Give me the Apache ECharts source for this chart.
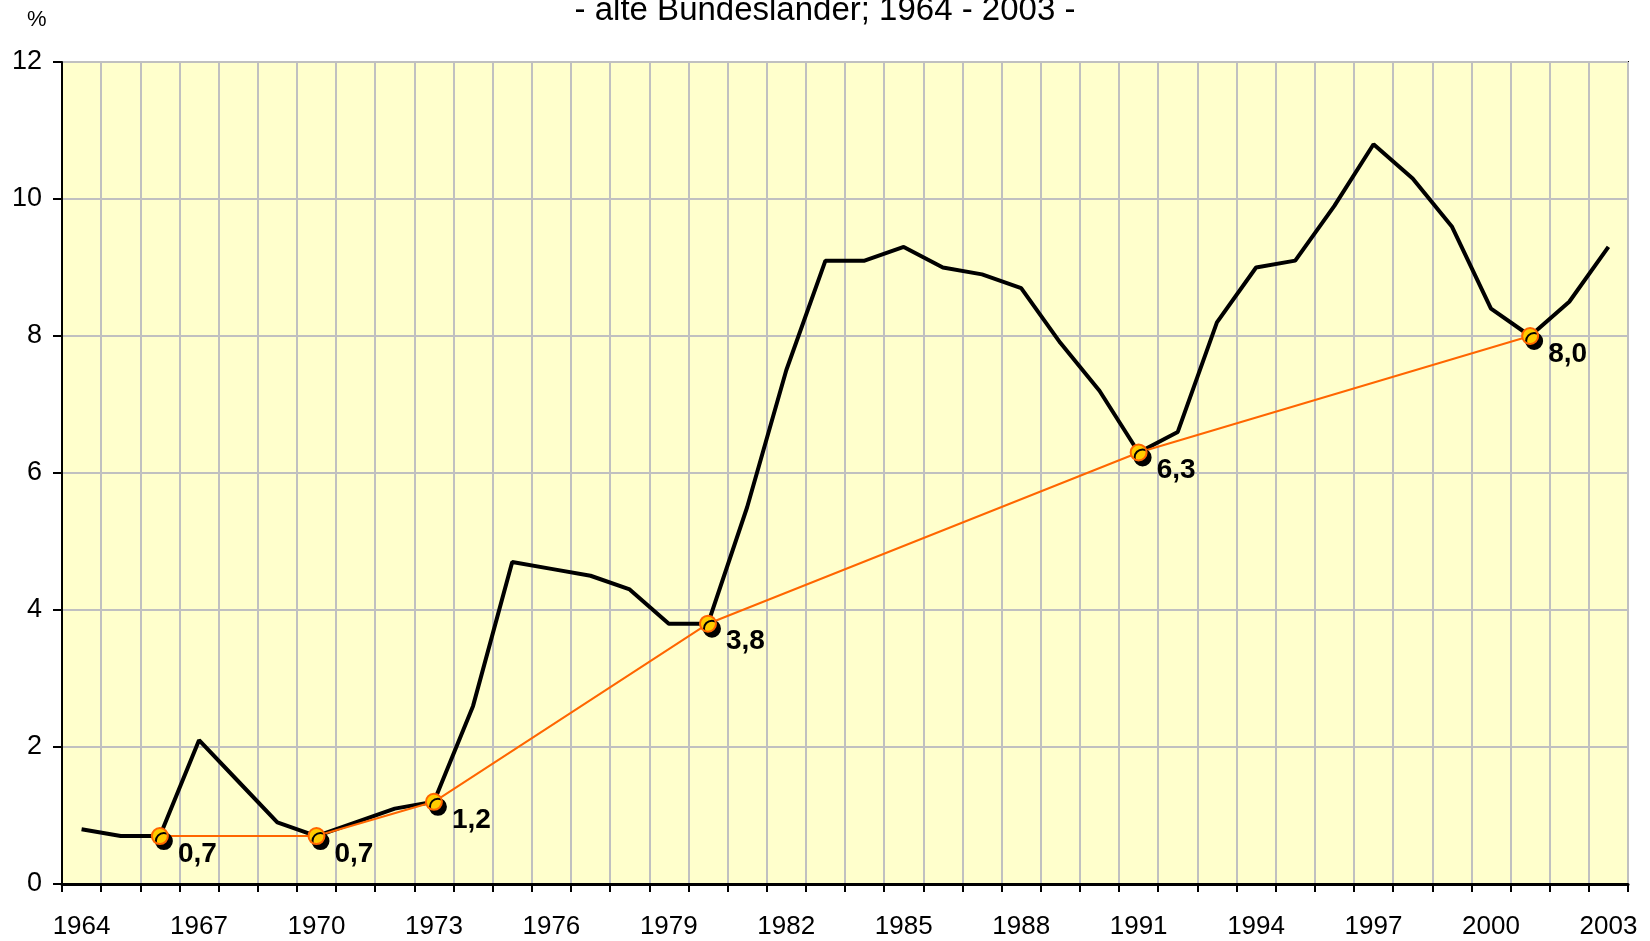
<!DOCTYPE html>
<html>
<head>
<meta charset="utf-8">
<script src="https://cdn.jsdelivr.net/npm/echarts@6/dist/echarts.min.js"></script>
<style>
html,body{margin:0;padding:0;background:#fff;}
#chart{width:1650px;height:941px;}
</style>
</head>
<body>
<div id="chart"></div>
<script>
var titleText = '- alte Bundeslander; 1964 - 2003 -';
var unitLabel = '%';
var years = [];
for (var y = 1964; y <= 2003; y++) years.push(String(y));
var rateValues = [0.8, 0.7, 0.7, 2.1, 1.5, 0.9, 0.7, 0.9, 1.1, 1.2,
                  2.6, 4.7, 4.6, 4.5, 4.3, 3.8, 3.8, 5.5, 7.5, 9.1,
                  9.1, 9.3, 9.0, 8.9, 8.7, 7.9, 7.2, 6.3, 6.6, 8.2,
                  9.0, 9.1, 9.9, 10.8, 10.3, 9.6, 8.4, 8.0, 8.5, 9.3];
var trendYears = ['1966', '1970', '1973', '1980', '1991', '2001'];
var trendValues = [0.7, 0.7, 1.2, 3.8, 6.3, 8.0];
var yTicks = [0, 2, 4, 6, 8, 10, 12];

var font = 'Liberation Sans, Arial, sans-serif';
var chart = echarts.init(document.getElementById('chart'));
chart.setOption({
  backgroundColor: '#ffffff',
  animation: false,
  title: {
    text: titleText,
    left: 'center',
    top: -11,
    textStyle: {fontFamily: font, fontSize: 33, fontWeight: 'normal', color: '#000'}
  },
  graphic: [{
    type: 'text',
    left: 27,
    top: 9,
    style: {text: unitLabel, font: '22px ' + font, fill: '#000'}
  }],
  grid: {
    left: 62, right: 22, top: 62, bottom: 57,
    show: true,
    backgroundColor: '#FFFFCC',
    borderColor: '#000',
    borderWidth: 2
  },
  xAxis: {
    type: 'category',
    data: years,
    boundaryGap: true,
    axisLine: {lineStyle: {color: '#000', width: 3}},
    axisTick: {show: true, interval: 0, length: 8, lineStyle: {color: '#000', width: 2}},
    axisLabel: {interval: 2, margin: 30, fontFamily: font, fontSize: 26, color: '#000'},
    splitLine: {show: true, interval: 0, lineStyle: {color: '#C0C0C0', width: 2}}
  },
  yAxis: {
    type: 'value',
    min: yTicks[0],
    max: yTicks[yTicks.length - 1],
    interval: 2,
    axisLine: {show: true, lineStyle: {color: '#000', width: 2}},
    axisTick: {show: true, length: 9, lineStyle: {color: '#000', width: 2}},
    axisLabel: {margin: 20, fontFamily: font, fontSize: 27, color: '#000'},
    splitLine: {show: true, lineStyle: {color: '#C0C0C0', width: 2}}
  },
  series: [{
    type: 'line',
    data: rateValues,
    symbol: 'none',
    lineStyle: {color: '#000', width: 4},
    z: 2
  }, {
    type: 'line',
    data: trendYears.map(function (yr, i) { return [yr, trendValues[i]]; }),
    symbol: 'circle',
    symbolSize: 16,
    lineStyle: {color: '#FF6600', width: 2},
    itemStyle: {
      color: '#FFCC00',
      borderColor: '#FF6600',
      borderWidth: 2,
      shadowColor: '#000',
      shadowBlur: 0,
      shadowOffsetX: 4,
      shadowOffsetY: 5
    },
    label: {
      show: true,
      position: 'right',
      distance: 5,
      offset: [4, 18],
      fontFamily: font,
      fontSize: 28,
      fontWeight: 'bold',
      color: '#000',
      formatter: function (p) { return p.value[1].toFixed(1).replace('.', ','); }
    },
    z: 3
  }]
});
</script>
</body>
</html>
